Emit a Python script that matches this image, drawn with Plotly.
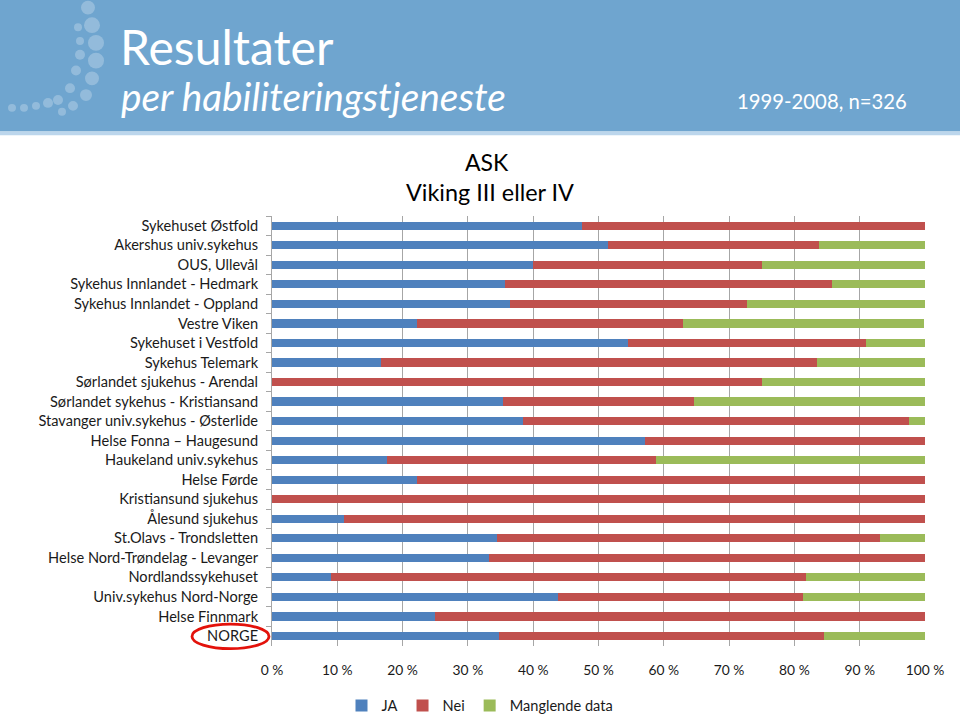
import plotly.graph_objects as go

categories = [
    "Sykehuset Østfold", "Akershus univ.sykehus", "OUS, Ullevål",
    "Sykehus Innlandet - Hedmark", "Sykehus Innlandet - Oppland", "Vestre Viken",
    "Sykehuset i Vestfold", "Sykehus Telemark", "Sørlandet sjukehus - Arendal",
    "Sørlandet sykehus - Kristiansand", "Stavanger univ.sykehus - Østerlide",
    "Helse Fonna – Haugesund", "Haukeland univ.sykehus", "Helse Førde",
    "Kristiansund sjukehus", "Ålesund sjukehus", "St.Olavs - Trondsletten",
    "Helse Nord-Trøndelag - Levanger", "Nordlandssykehuset",
    "Univ.sykehus Nord-Norge", "Helse Finnmark", "NORGE",
]
ja = [47.4, 51.5, 40.0, 35.7, 36.4, 22.2, 54.5, 16.7, 0.0, 35.3, 38.5,
      57.1, 17.6, 22.2, 0.0, 11.1, 34.5, 33.3, 9.1, 43.8, 25.0, 34.7]
nei = [52.6, 32.3, 35.0, 50.0, 36.4, 40.7, 36.4, 66.7, 75.0, 29.4, 59.0,
       42.9, 41.2, 77.8, 100.0, 88.9, 58.6, 66.7, 72.7, 37.5, 75.0, 49.9]
manglende = [0.0, 16.2, 25.0, 14.3, 27.3, 37.0, 9.1, 16.7, 25.0, 35.3, 2.6,
             0.0, 41.2, 0.0, 0.0, 0.0, 6.9, 0.0, 18.2, 18.8, 0.0, 15.4]
x_ticks = [0, 10, 20, 30, 40, 50, 60, 70, 80, 90, 100]
x_ticklabels = [f"{v} %" for v in x_ticks]
series_names = ["JA", "Nei", "Manglende data"]
colors = ["#4F81BD", "#C0504D", "#9BBB59"]

W, H = 960, 717
L, R, T, B = 272, 925, 216, 653
FONT = "Lato, 'Open Sans', sans-serif"


def px(x):
    return (x - L) / (R - L)


def py(y):
    return (B - y) / (B - T)


fig = go.Figure()
for name, vals, col in zip(series_names, [ja, nei, manglende], colors):
    fig.add_trace(go.Bar(
        y=categories, x=vals, name=name, orientation="h",
        marker=dict(color=col, line=dict(width=0)),
        hoverinfo="x+y+name",
    ))

shapes = []
# header band
shapes.append(dict(type="rect", xref="paper", yref="paper",
                   x0=px(-5), x1=px(W + 5), y0=py(130), y1=py(-5),
                   fillcolor="#6FA5CF", line=dict(width=0), layer="below"))
shapes.append(dict(type="rect", xref="paper", yref="paper",
                   x0=px(-5), x1=px(W + 5), y0=py(134), y1=py(130),
                   fillcolor="#BCD6EC", line=dict(width=0), layer="below"))
# decorative dots of logo
dots = [(88, 4, 7), (92, 22, 8), (78, 24, 4), (96, 40, 8), (80, 38, 4),
        (96, 58, 8), (80, 52, 5), (92, 76, 7), (76, 68, 5), (86, 93, 6),
        (70, 86, 5), (73, 104, 5), (58, 98, 5), (48, 101, 5), (36, 104, 4),
        (24, 106, 4), (12, 106, 4), (62, 110, 4)]
for cx, cy, r in dots:
    shapes.append(dict(type="circle", xref="paper", yref="paper",
                       x0=px(cx - r), x1=px(cx + r), y0=py(cy + r), y1=py(cy - r),
                       fillcolor="rgba(255,255,255,0.25)", line=dict(width=0),
                       layer="below"))
# red ellipse around NORGE
shapes.append(dict(type="circle", xref="paper", yref="paper",
                   x0=px(192), x1=px(269), y0=py(656), y1=py(631),
                   line=dict(color="#E3120B", width=2.8), fillcolor="rgba(0,0,0,0)"))

annotations = [
    dict(text="Resultater", xref="paper", yref="paper", x=px(118), y=py(44),
         xanchor="left", yanchor="middle", showarrow=False,
         font=dict(family=FONT, size=48, color="white")),
    dict(text="<i>per habiliteringstjeneste</i>", xref="paper", yref="paper",
         x=px(119), y=py(94), xanchor="left", yanchor="middle", showarrow=False,
         font=dict(family=FONT, size=38.8, color="white")),
    dict(text="1999-2008, n=326", xref="paper", yref="paper", x=px(909), y=py(99),
         xanchor="right", yanchor="middle", showarrow=False,
         font=dict(family=FONT, size=20.3, color="white")),
    dict(text="ASK", xref="paper", yref="paper", x=px(487), y=py(161),
         xanchor="center", yanchor="middle", showarrow=False,
         font=dict(family=FONT, size=23, color="black")),
    dict(text="Viking III eller IV", xref="paper", yref="paper", x=px(490), y=py(192),
         xanchor="center", yanchor="middle", showarrow=False,
         font=dict(family=FONT, size=23.4, color="black")),
]

fig.update_layout(
    width=W, height=H,
    margin=dict(l=L, r=W - R, t=T, b=H - B, pad=0),
    barmode="stack", bargap=0.58,
    plot_bgcolor="white", paper_bgcolor="white",
    font=dict(family=FONT, size=14.6, color="#1a1a1a"),
    shapes=shapes, annotations=annotations,
    showlegend=True,
    legend=dict(orientation="h", xref="container", yref="container",
                x=0.5, y=0.016, xanchor="center", yanchor="middle",
                font=dict(family=FONT, size=14.6, color="#1a1a1a"),
                itemwidth=30, traceorder="normal", tracegroupgap=0),
    xaxis=dict(range=[0, 100], tickvals=x_ticks, ticktext=x_ticklabels,
               showgrid=True, gridcolor="#A6A6A6", gridwidth=1,
               zeroline=False, showline=False, ticks="", ticklabelstandoff=14,
               tickfont=dict(size=13.8), fixedrange=True),
    yaxis=dict(autorange="reversed", showgrid=False, showline=True,
               linecolor="#A6A6A6", linewidth=1, ticks="outside",
               tickson="boundaries", ticklen=5, tickcolor="#A6A6A6",
               ticklabelstandoff=10, fixedrange=True),
)

fig.write_html("out.html", config={"displayModeBar": False},
               post_script="document.body.style.margin='0';document.body.style.padding='0';document.body.style.overflow='hidden';")
